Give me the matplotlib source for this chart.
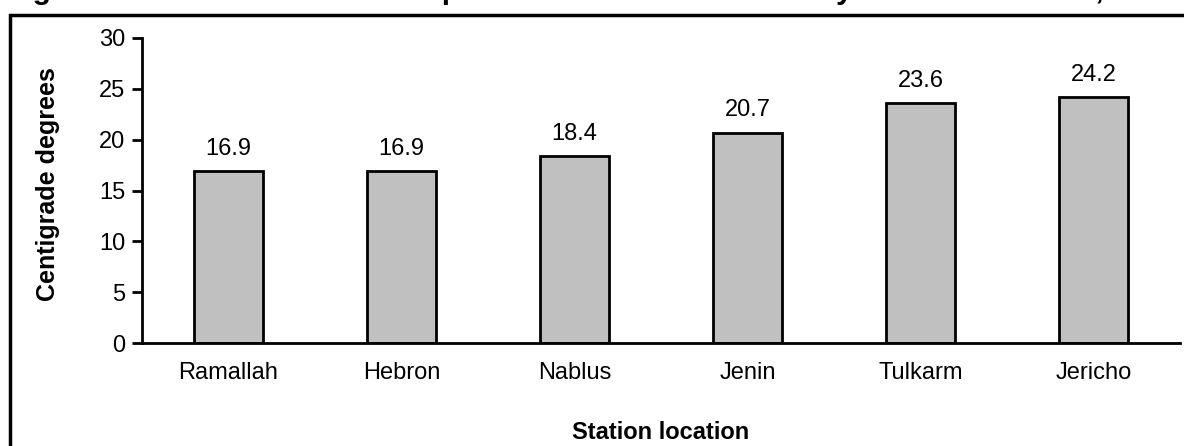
import matplotlib
matplotlib.use("Agg")
from matplotlib import pyplot as plt
from matplotlib.patches import Rectangle

# annual mean temperature per station
stations = ["Ramallah", "Hebron", "Nablus", "Jenin", "Tulkarm", "Jericho"]
temps = [16.9, 16.9, 18.4, 20.7, 23.6, 24.2]
y_ticks = [0, 5, 10, 15, 20, 25, 30]

plt.rcParams['font.family'] = ['Liberation Sans', 'DejaVu Sans']

fig = plt.figure(figsize=(11.84, 4.46), dpi=100)
ax = fig.add_axes([142 / 1184, 1 - 343 / 446, 1038 / 1184, 305 / 446])

x = range(len(stations))
bars = ax.bar(x, temps, width=0.4, color="#c0c0c0", edgecolor="black", linewidth=2)

for i, v in enumerate(temps):
    ax.annotate("%.1f" % v, xy=(i, v), xytext=(0, 8), textcoords="offset points",
                ha="center", va="bottom", fontsize=17)

ax.set_xlim(-0.5, len(stations) - 0.5)
ax.set_ylim(0, 30)
ax.set_yticks(y_ticks)
ax.set_xticks(list(x))
ax.set_xticklabels(stations)
ax.tick_params(axis="x", length=0, pad=14, labelsize=17)
ax.tick_params(axis="y", length=7, width=2, pad=5, labelsize=17, direction="out")

for s in ["top", "right"]:
    ax.spines[s].set_visible(False)
for s in ["left", "bottom"]:
    ax.spines[s].set_linewidth(2)

ax.set_ylabel("Centigrade degrees", fontsize=18, fontweight="bold")
ax.yaxis.set_label_coords(-0.079, 0.52)
ax.set_xlabel("Station location", fontsize=17, fontweight="bold", labelpad=26)

# outer frame around the chart
fig.patches.append(Rectangle((10 / 1184, -0.2), 1.2, 1.2 - 15 / 446,
                             transform=fig.transFigure, fill=False,
                             edgecolor="black", linewidth=2.5))

# title sits above the frame
fig.text(6 / 1184, 1 + 1 / 446,
         "Figure 3: Annual Mean Air Temperature in the West Bank by Station Location, 2010",
         fontsize=21.5, fontweight="bold", ha="left", va="baseline")

fig.savefig("out.png", dpi=100)
